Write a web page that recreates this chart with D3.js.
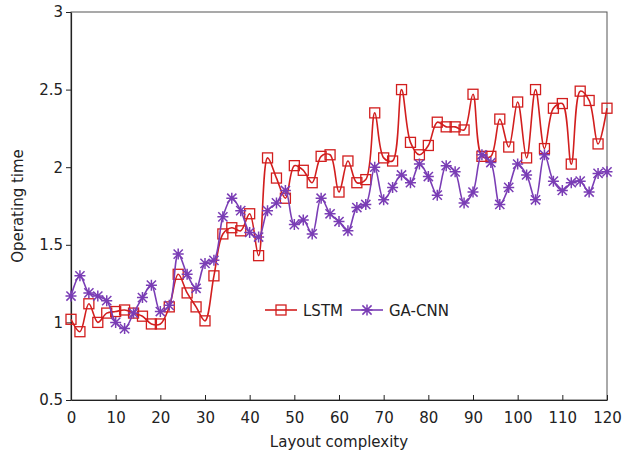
<!DOCTYPE html>
<html>
<head>
<meta charset="utf-8">
<script src="https://cdn.jsdelivr.net/npm/d3@7"></script>
<style>
	body { margin: 0; background: #fff; }
	text { font-family: "DejaVu Sans", Verdana, sans-serif; fill: #222; }
</style>
</head>
<body>
<svg id="chart" width="623" height="460"></svg>
<script>
// layout complexity steps 0..120
var complexity = [0,2,4,6,8,10,12,14,16,18,20,22,24,26,28,30,32,34,36,38,40,
	42,44,46,48,50,52,54,56,58,60,62,64,66,68,70,72,74,76,78,80,
	82,84,86,88,90,92,94,96,98,100,102,104,106,108,110,112,114,116,118,120];

var lstm = [1.02,0.94,1.12,1.00,1.06,1.07,1.08,1.06,1.04,0.99,0.99,
	1.10,1.31,1.19,1.10,1.01,1.30,1.57,1.61,1.59,1.70,
	1.43,2.06,1.93,1.80,2.01,1.98,1.90,2.07,2.08,1.84,
	2.04,1.90,1.92,2.35,2.06,2.04,2.50,2.16,2.08,2.14,
	2.29,2.26,2.26,2.24,2.47,2.07,2.07,2.31,2.13,2.42,
	2.06,2.50,2.12,2.38,2.41,2.02,2.49,2.43,2.15,2.38];

var gacnn = [1.17,1.30,1.19,1.17,1.14,1.00,0.96,1.06,1.16,1.24,1.07,
	1.11,1.44,1.31,1.22,1.38,1.40,1.68,1.80,1.72,1.58,
	1.55,1.72,1.77,1.85,1.63,1.66,1.57,1.80,1.70,1.65,
	1.59,1.74,1.76,2.00,1.79,1.87,1.95,1.90,2.02,1.94,
	1.82,2.01,1.97,1.77,1.84,2.08,2.03,1.76,1.87,2.02,
	1.95,1.79,2.08,1.91,1.85,1.90,1.91,1.84,1.96,1.97];

var xTicks = [0,10,20,30,40,50,60,70,80,90,100,110,120];
var yTicks = [0.5,1,1.5,2,2.5,3];

var seriesNames = ['LSTM', 'GA-CNN'];
var seriesColors = ['#d21e1e', '#7a3db5'];

var svg = d3.select('#chart'),
	pad = {left: 71, right: 607, top: 12, bottom: 400};

var x = d3.scaleLinear().domain([0, 120]).range([pad.left, pad.right]);
var y = d3.scaleLinear().domain([0.5, 3]).range([pad.bottom, pad.top]);

// frame
svg.append('rect')
	.attr('x', pad.left).attr('y', pad.top)
	.attr('width', pad.right - pad.left).attr('height', pad.bottom - pad.top)
	.attr('fill', 'none').attr('stroke', '#555').attr('stroke-width', 1);

// x axis, ticks pointing inward
var gx = svg.append('g').attr('transform', 'translate(0,' + pad.bottom + ')')
	.call(d3.axisBottom(x).tickValues(xTicks).tickSizeInner(-5).tickSizeOuter(0).tickPadding(12));
gx.selectAll('text').style('font-size', '15px').attr('font-family', null);

// y axis, ticks pointing outward
var gy = svg.append('g').attr('transform', 'translate(' + pad.left + ',0)')
	.call(d3.axisLeft(y).tickValues(yTicks).tickFormat(d3.format('')).tickSizeInner(5).tickSizeOuter(0).tickPadding(3));
gy.selectAll('text').style('font-size', '15px').attr('font-family', null);

svg.selectAll('.domain').attr('stroke', '#222').attr('stroke-width', 1.2);
svg.selectAll('.tick line').attr('stroke', '#222');

// axis titles
svg.append('text')
	.attr('x', (pad.left + pad.right) / 2).attr('y', 447)
	.attr('text-anchor', 'middle').style('font-size', '15px')
	.text('Layout complexity');
svg.append('text')
	.attr('transform', 'translate(23,' + (pad.top + pad.bottom) / 2 + ') rotate(-90)')
	.attr('text-anchor', 'middle').style('font-size', '15px')
	.text('Operating time');

function squareMark(g, cx, cy, color) {
	g.append('rect').attr('x', cx - 5).attr('y', cy - 5)
		.attr('width', 10).attr('height', 10)
		.attr('fill', 'none').attr('stroke', color).attr('stroke-width', 1.3);
}

function starMark(g, cx, cy, color) {
	var r = 5.5, d = 4.6;
	g.append('path')
		.attr('d', 'M' + cx + ',' + (cy - r) + 'V' + (cy + r) +
			'M' + (cx - d) + ',' + (cy - d) + 'L' + (cx + d) + ',' + (cy + d) +
			'M' + (cx - d) + ',' + (cy + d) + 'L' + (cx + d) + ',' + (cy - d) +
			'M' + (cx - r) + ',' + cy + 'H' + (cx + r))
		.attr('stroke', color).attr('stroke-width', 1.5).attr('fill', 'none');
}

var markers = [squareMark, starMark];
var allSeries = [lstm, gacnn];

var line = d3.line()
	.x(function (d) { return x(d[0]); })
	.y(function (d) { return y(d[1]); })
	.curve(d3.curveCatmullRom.alpha(0.5));

allSeries.forEach(function (vals, s) {
	var pts = complexity.map(function (c, i) { return [c, vals[i]]; }),
		g = svg.append('g').attr('class', 'series');
	g.append('path').datum(pts)
		.attr('d', line)
		.attr('fill', 'none')
		.attr('stroke', seriesColors[s])
		.attr('stroke-width', 1.6);
	pts.forEach(function (p) {
		markers[s](g, x(p[0]), y(p[1]), seriesColors[s]);
	});
});

// legend
var lg = svg.append('g').attr('class', 'legend');
var legendX = [265, 351], legendY = 310;
seriesNames.forEach(function (name, s) {
	var lx = legendX[s];
	lg.append('line').attr('x1', lx).attr('x2', lx + 32)
		.attr('y1', legendY).attr('y2', legendY)
		.attr('stroke', seriesColors[s]).attr('stroke-width', 1.6);
	markers[s](lg, lx + 16, legendY, seriesColors[s]);
	lg.append('text').attr('x', lx + 38).attr('y', legendY + 5.5)
		.style('font-size', '15px').text(name);
});
</script>
</body>
</html>
